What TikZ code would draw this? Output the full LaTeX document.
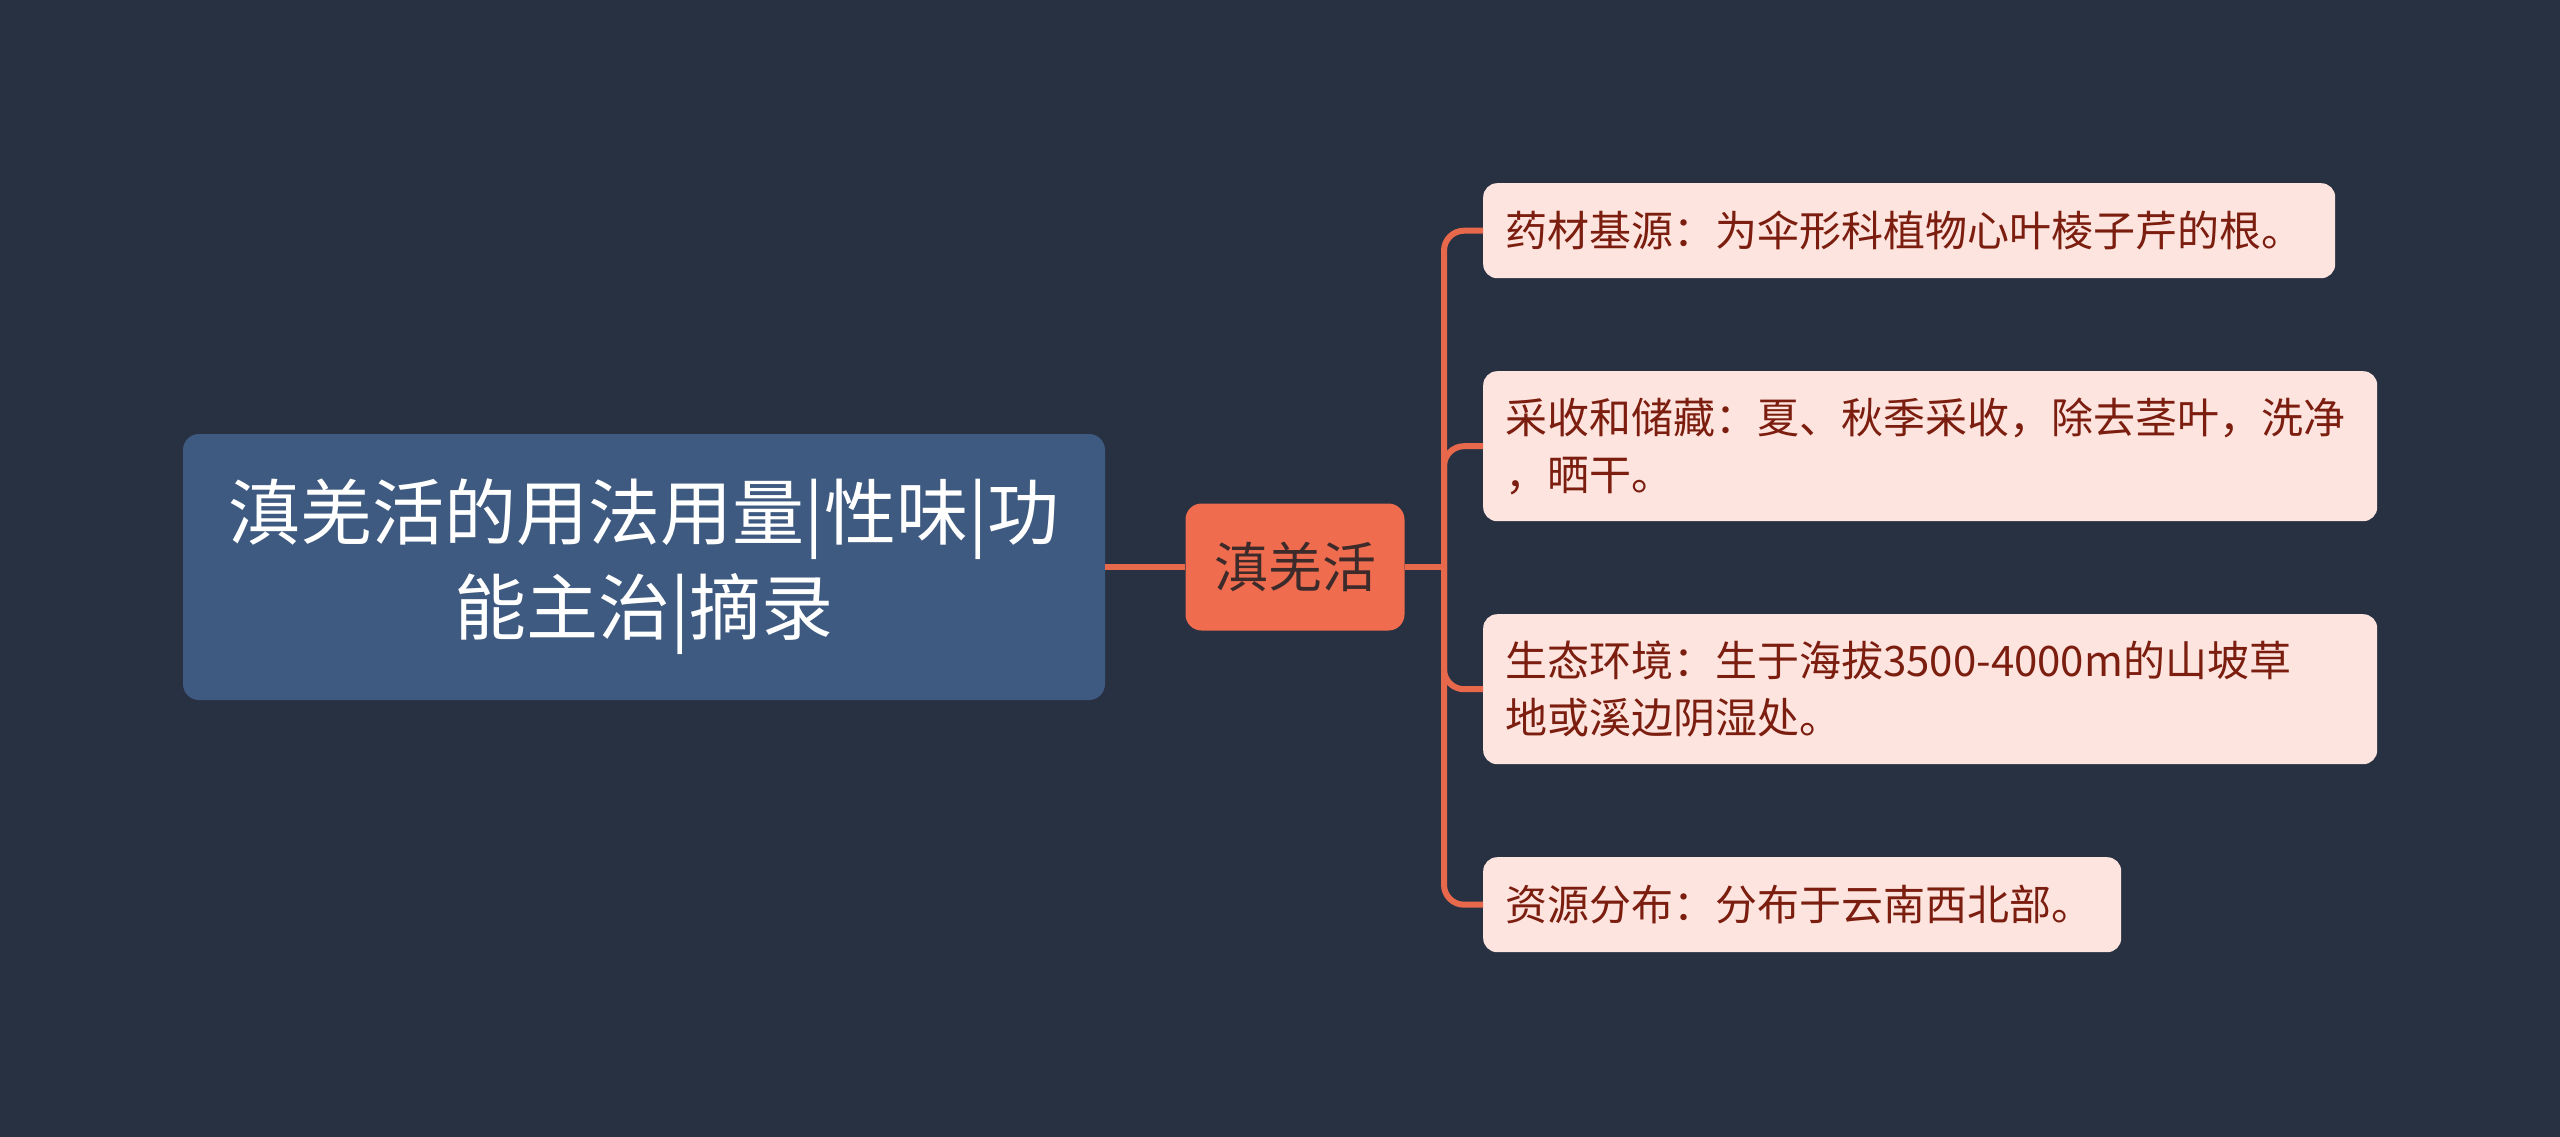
\documentclass[tikz,border=0pt]{standalone}
\usepackage{fontspec}
\setmainfont{Noto Sans CJK SC}
\definecolor{bgc}{HTML}{283142}
\definecolor{rootc}{HTML}{3E5A80}
\definecolor{midc}{HTML}{F06C4E}
\definecolor{midtxt}{HTML}{3D2B2B}
\definecolor{leafc}{HTML}{FDE4DE}
\definecolor{leaftxt}{HTML}{7B1D0F}
\definecolor{linec}{HTML}{E8684C}
\begin{document}
\begin{tikzpicture}[x=1pt,y=-1pt,
  rootbox/.style={fill=rootc, rounded corners=16pt, text=white, inner sep=0pt,
    font=\fontsize{72}{95}\selectfont, align=center},
  midbox/.style={fill=midc, rounded corners=16pt, text=midtxt, inner sep=0pt,
    font=\fontsize{54}{64}\selectfont},
  leafbox/.style={fill=leafc, rounded corners=14pt, text=leaftxt, inner xsep=22pt, inner ysep=0pt,
    font=\fontsize{42}{57}\selectfont, align=left, anchor=north west},
  conn/.style={draw=linec, line width=6pt},
  branch/.style={conn, rounded corners=20pt}]
\fill[bgc] (0,0) rectangle (2560,1137);
\useasboundingbox (0,0) rectangle (2560,1137);
\node[rootbox, minimum width=922pt, minimum height=266pt] (root) at (644,567) {滇羌活的用法用量|性味|功\\能主治|摘录};
\node[midbox, minimum width=219pt, minimum height=127pt] (mid) at (1295,567) {滇羌活};
\node[leafbox, text width=808pt, minimum height=95pt] (l1) at (1483,183) {药材基源：为伞形科植物心叶棱子芹的根。};
\node[leafbox, text width=850pt, minimum height=150pt] (l2) at (1483,371) {采收和储藏：夏、秋季采收，除去茎叶，洗净\\，晒干。};
\node[leafbox, text width=850pt, minimum height=150pt] (l3) at (1483,614) {生态环境：生于海拔3500-4000m的山坡草\\地或溪边阴湿处。};
\node[leafbox, text width=594pt, minimum height=95pt] (l4) at (1483,857) {资源分布：分布于云南西北部。};
\coordinate (sp) at (1444,567);
\draw[conn] (root.east) -- (mid.west);
\draw[conn] (mid.east) -- (sp);
\draw[branch] (sp) |- (l1.west);
\draw[branch] (sp) |- (l2.west);
\draw[branch] (sp) |- (l3.west);
\draw[branch] (sp) |- (l4.west);
\end{tikzpicture}
\end{document}
